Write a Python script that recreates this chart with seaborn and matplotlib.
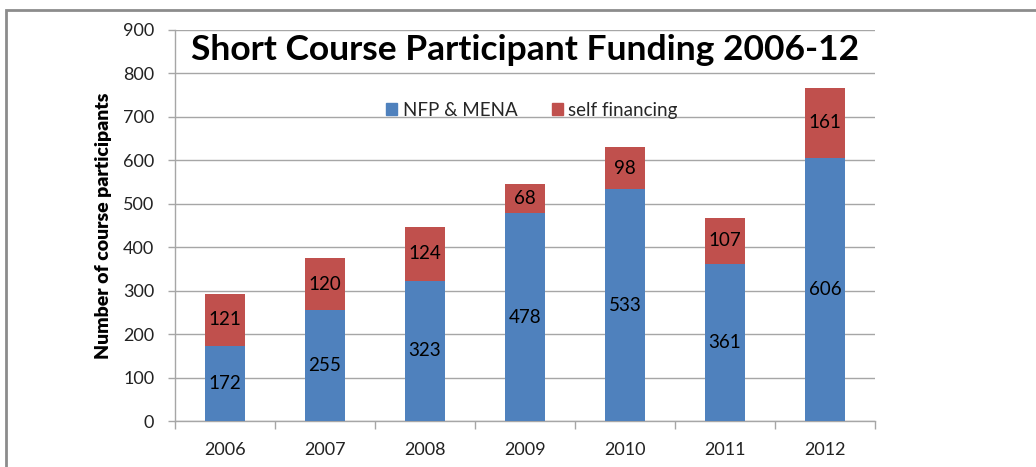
import pandas as pd
import seaborn as sns
import matplotlib.pyplot as plt
from matplotlib.patches import Rectangle, Patch

# data
years = ["2006", "2007", "2008", "2009", "2010", "2011", "2012"]
nfp_mena = [172, 255, 323, 478, 533, 361, 606]
self_financing = [121, 120, 124, 68, 98, 107, 161]

blue = "#4F81BD"
red = "#C0504D"
grid_col = "#A6A6A6"

df = pd.DataFrame({"year": years, "nfp": nfp_mena, "self": self_financing})
df["total"] = df["nfp"] + df["self"]

sns.set_theme(style="white")
plt.rcParams['font.family'] = ['Lato', 'DejaVu Sans']

fig = plt.figure(figsize=(10.36, 4.67), dpi=100)
ax = fig.add_axes([175 / 1036, 1 - 421 / 467, 700 / 1036, 391 / 467])

# outer frame of the chart object
fig.patches.append(Rectangle((6 / 1036, -0.1), 1.2, 1.1 - 10 / 467, transform=fig.transFigure,
                             fill=False, edgecolor="#8C8C8C", linewidth=2, zorder=0))

# stacked bars: total in red, blue on top of it
sns.barplot(data=df, x="year", y="total", color=red, saturation=1, width=0.4, ax=ax, zorder=3, linewidth=0)
sns.barplot(data=df, x="year", y="nfp", color=blue, saturation=1, width=0.4, ax=ax, zorder=3, linewidth=0)

# segment labels
for i, row in df.iterrows():
    ax.text(i, row["nfp"] / 2, str(row["nfp"]), ha="center", va="center", fontsize=13.5, color="black", zorder=4)
    ax.text(i, row["nfp"] + row["self"] / 2, str(row["self"]), ha="center", va="center", fontsize=13.5,
            color="black", zorder=4)

ax.set_ylim(0, 900)
ax.set_xlim(-0.5, len(years) - 0.5)
ax.set_yticks(range(0, 901, 100))
ax.yaxis.grid(True, color=grid_col, linewidth=1)
ax.set_axisbelow(True)

for s in ["top", "right"]:
    ax.spines[s].set_visible(False)
for s in ["left", "bottom"]:
    ax.spines[s].set_color(grid_col)
    ax.spines[s].set_linewidth(1)

ax.set_xticks([i - 0.5 for i in range(len(years) + 1)], minor=True)
ax.tick_params(axis="x", which="minor", length=6, color=grid_col, width=1, bottom=True)
ax.tick_params(axis="x", which="major", length=0, pad=15, labelsize=13)
ax.tick_params(axis="y", length=5, color=grid_col, width=1, left=True, pad=10, labelsize=13)
for lbl in ax.get_xticklabels() + ax.get_yticklabels():
    lbl.set_color("#222222")

ax.set_xlabel("")
ax.set_ylabel("Number of course participants", fontsize=14, fontweight="heavy", labelpad=8, color="black")

ax.text(0.5, 0.948, "Short Course Participant Funding 2006-12", transform=ax.transAxes,
        ha="center", va="center", fontsize=25.5, fontweight="bold", color="black", zorder=5)

handles = [Patch(color=blue, label="NFP & MENA"), Patch(color=red, label="self financing")]
ax.legend(handles=handles, loc="center", bbox_to_anchor=(0.51, 0.795), ncol=2, frameon=False,
          fontsize=13.5, handlelength=0.6, handleheight=0.6, handletextpad=0.3, columnspacing=1.8)

plt.savefig("out.png", dpi=100)
